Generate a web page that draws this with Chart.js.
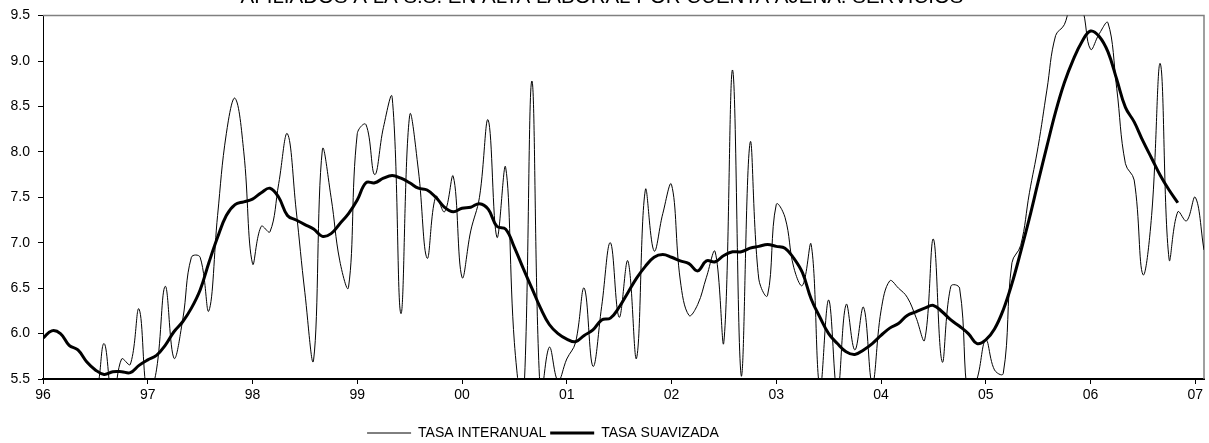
<!DOCTYPE html>
<html>
<head>
<meta charset="utf-8">
<title>Afiliados servicios</title>
<script src="https://cdn.jsdelivr.net/npm/chart.js@4.4.1/dist/chart.umd.min.js"></script>
<style>
  html, body { margin: 0; padding: 0; background: #fff; overflow: hidden; }
  #wrap { position: absolute; left: 0; top: -15px; width: 1209px; height: 465px; }
</style>
</head>
<body>
<div id="wrap"><canvas id="grafico"></canvas></div>
<script>
// monthly data, Jan 1996 = month 0
var yearLabels = ['96', '97', '98', '99', '00', '01', '02', '03', '04', '05', '06', '07'];

var interanual = [
  5.2, 5.2, 5.25, 5.2, 5.25, 5.3, 5.3, 5.89, 5.25, 5.72,
  5.66, 6.27, 5.3, 5.6, 6.52, 5.73, 6.15, 6.84, 6.84, 6.25,
  7.3, 8.2, 8.59, 8.0, 6.77, 7.18, 7.12, 7.65, 8.2, 7.36,
  6.45, 5.71, 8.02, 7.5, 6.8, 6.51, 8.2, 8.3, 7.75, 8.27,
  8.6, 6.22, 8.4, 7.8, 6.83, 7.51, 7.34, 7.73, 6.62, 7.13,
  7.5, 8.35, 7.06, 7.83, 5.9, 5.2, 8.78, 5.3, 5.85, 5.48,
  5.72, 5.9, 6.5, 5.64, 6.3, 7.0, 6.18, 6.8, 5.73, 7.58,
  6.91, 7.32, 7.64, 6.59, 6.2, 6.32, 6.62, 6.9, 5.91, 8.9,
  5.53, 8.1, 6.6, 6.42, 7.42, 7.28, 6.73, 6.53, 6.98, 5.4,
  6.37, 5.35, 6.32, 5.82, 6.29, 5.45, 6.25, 6.58, 6.5, 6.4,
  6.18, 5.93, 7.04, 5.69, 6.52, 6.5, 5.3, 5.5, 5.93, 5.6,
  5.56, 6.78, 6.97, 7.55, 8.06, 8.68, 9.28, 9.4, 9.7, 9.6,
  9.13, 9.3, 9.42, 8.7, 7.87, 7.69, 6.65, 7.3, 8.97, 6.82,
  7.34, 7.24, 7.5, 6.92
];

var suavizada = [
  5.95, 6.03, 6.0, 5.87, 5.82, 5.69, 5.6, 5.55, 5.58, 5.58,
  5.57, 5.65, 5.71, 5.76, 5.87, 6.02, 6.13, 6.28, 6.48, 6.78,
  7.06, 7.3, 7.42, 7.45, 7.48, 7.55, 7.6, 7.5, 7.3, 7.25,
  7.2, 7.15, 7.07, 7.1, 7.21, 7.32, 7.47, 7.66, 7.66, 7.71,
  7.74, 7.71, 7.66, 7.6, 7.58, 7.5, 7.39, 7.34, 7.38, 7.39,
  7.43, 7.37, 7.18, 7.15, 6.95, 6.72, 6.5, 6.28, 6.1, 6.0,
  5.94, 5.91, 5.98, 6.04, 6.15, 6.17, 6.29, 6.45, 6.61, 6.74,
  6.84, 6.87, 6.84, 6.8, 6.77, 6.69, 6.8, 6.79, 6.86, 6.9,
  6.9, 6.94, 6.96, 6.98, 6.96, 6.94, 6.83, 6.67, 6.38, 6.18,
  6.0, 5.89, 5.8, 5.77, 5.82, 5.89, 5.98, 6.06, 6.11, 6.2,
  6.24, 6.28, 6.31, 6.24, 6.15, 6.08, 6.0, 5.89, 5.93, 6.05,
  6.26, 6.55, 6.9, 7.27, 7.67, 8.06, 8.44, 8.76, 9.01, 9.21,
  9.33, 9.27, 9.1, 8.8, 8.49, 8.33, 8.12, 7.93, 7.74, 7.58,
  7.44
];

function toPoints(arr) {
  return arr.map(function (v, i) { return { x: i, y: v }; });
}

var fuente = "'Liberation Sans', Arial, sans-serif";

// grey frame on top and right of the plot area
var marco = {
  id: 'marco',
  beforeDatasetsDraw: function (chart) {
    var a = chart.chartArea, ctx = chart.ctx;
    ctx.save();
    ctx.strokeStyle = '#808080';
    ctx.lineWidth = 1.5;
    ctx.beginPath();
    ctx.moveTo(a.left, a.top);
    ctx.lineTo(a.right, a.top);
    ctx.lineTo(a.right, a.bottom);
    ctx.stroke();
    ctx.restore();
  }
};

// legend sits left of centre in the original
var moverLeyenda = {
  id: 'moverLeyenda',
  afterLayout: function (chart) {
    var lg = chart.legend;
    var shift = 543 - (lg.left + lg.right) / 2;
    lg.left += shift;
    lg.right += shift;
  }
};

var ctx = document.getElementById('grafico');
new Chart(ctx, {
  type: 'line',
  data: {
    datasets: [
      {
        label: 'TASA INTERANUAL',
        data: toPoints(interanual),
        borderColor: '#000',
        borderWidth: 1,
        tension: 0.4,
        pointRadius: 0,
        fill: false,
        order: 1
      },
      {
        label: 'TASA SUAVIZADA',
        data: toPoints(suavizada),
        borderColor: '#000',
        borderWidth: 3,
        tension: 0.4,
        pointRadius: 0,
        fill: false,
        order: 0
      }
    ]
  },
  options: {
    responsive: true,
    maintainAspectRatio: false,
    animation: false,
    layout: { padding: { right: 5 } },
    plugins: {
      tooltip: { enabled: false },
      title: {
        display: true,
        text: 'AFILIADOS A LA S.S. EN ALTA LABORAL POR CUENTA AJENA. SERVICIOS',
        color: '#000',
        font: { family: fuente, size: 20.5, weight: 'normal' },
        padding: { top: 0, bottom: 6 }
      },
      legend: {
        position: 'bottom',
        labels: {
          color: '#000',
          font: { family: fuente, size: 14 },
          usePointStyle: true,
          pointStyleWidth: 44,
          padding: 4,
          generateLabels: function (chart) {
            return chart.data.datasets.map(function (ds, i) {
              return {
                text: ds.label,
                fillStyle: '#000',
                strokeStyle: '#000',
                fontColor: '#000',
                lineWidth: ds.borderWidth,
                pointStyle: 'line',
                hidden: false,
                datasetIndex: i
              };
            });
          }
        }
      }
    },
    scales: {
      x: {
        type: 'linear',
        min: 0,
        max: 133,
        afterBuildTicks: function (scale) {
          scale.ticks = yearLabels.map(function (_, i) { return { value: i * 12 }; });
        },
        afterFit: function (scale) { scale.height = 43; },
        ticks: {
          color: '#000',
          font: { family: fuente, size: 14 },
          padding: 3,
          maxRotation: 0,
          autoSkip: false,
          callback: function (v) { return yearLabels[Math.round(v / 12)]; }
        },
        grid: { drawOnChartArea: false, drawTicks: true, tickLength: 5, color: '#000' },
        border: { color: '#000', width: 2 }
      },
      y: {
        min: 5.5,
        max: 9.5,
        afterFit: function (scale) { scale.width = 43; },
        ticks: {
          stepSize: 0.5,
          color: '#000',
          font: { family: fuente, size: 14 },
          padding: 8,
          callback: function (v) { return v.toFixed(1); }
        },
        grid: { drawOnChartArea: false, drawTicks: true, tickLength: 5, color: '#000' },
        border: { color: '#000', width: 1 }
      }
    }
  },
  plugins: [marco, moverLeyenda]
});
</script>
</body>
</html>
